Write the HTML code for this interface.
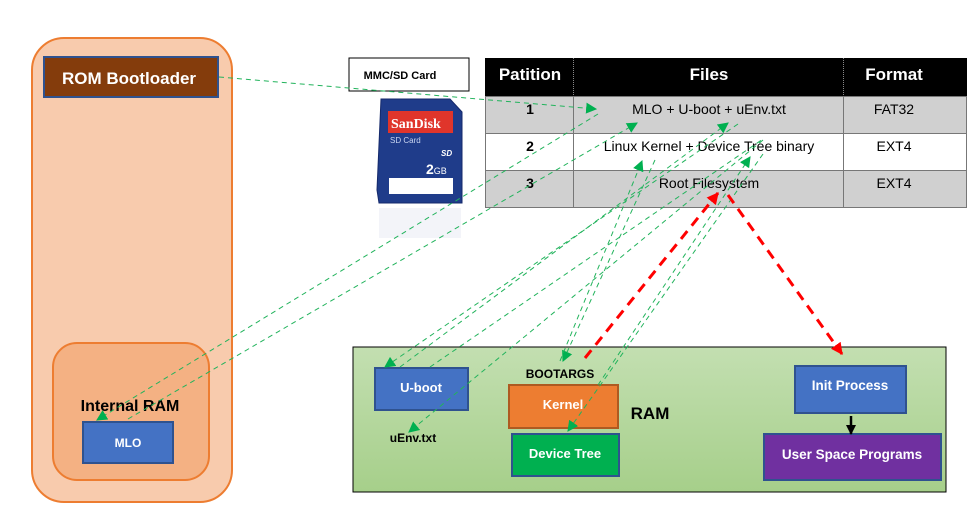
<!DOCTYPE html>
<html><head><meta charset="utf-8"><style>
body{margin:0;background:#fff;}
svg{display:block;font-family:"Liberation Sans",Calibri,sans-serif;}
.b{font-weight:bold;}
</style></head><body>
<svg width="973" height="521" viewBox="0 0 973 521" xmlns="http://www.w3.org/2000/svg">
<defs>
<linearGradient id="g" x1="0" y1="0" x2="0" y2="1"><stop offset="0" stop-color="#c3dfb1"/><stop offset="1" stop-color="#a6cf8a"/></linearGradient>
<marker id="ga" viewBox="0 0 10 10" refX="9" refY="5" markerWidth="11" markerHeight="11" orient="auto-start-reverse" markerUnits="userSpaceOnUse"><path d="M0,0L10,5L0,10z" fill="#00b050"/></marker>
<marker id="ra" viewBox="0 0 10 10" refX="9" refY="5" markerWidth="12" markerHeight="12" orient="auto" markerUnits="userSpaceOnUse"><path d="M0,0L10,5L0,10z" fill="#ff0000"/></marker>
<marker id="ka" viewBox="0 0 10 10" refX="9" refY="5" markerWidth="10" markerHeight="10" orient="auto" markerUnits="userSpaceOnUse"><path d="M0,0L10,5L0,10z" fill="#000"/></marker>
</defs>
<!-- left -->
<rect x="32" y="38" width="200" height="464" rx="32" fill="#f8cbad" stroke="#ed7d31" stroke-width="2"/>
<rect x="44" y="57" width="174" height="40" fill="#843c0c" stroke="#2f528f" stroke-width="2"/>
<text x="129" y="84" font-size="17" fill="#fff" class="b" text-anchor="middle">ROM Bootloader</text>
<rect x="53" y="343" width="156" height="137" rx="24" fill="#f4b183" stroke="#ed7d31" stroke-width="2"/>
<text x="130" y="411" font-size="16" class="b" text-anchor="middle">Internal RAM</text>
<rect x="83" y="422" width="90" height="41" fill="#4472c4" stroke="#2f528f" stroke-width="2"/>
<text x="128" y="447" font-size="12" fill="#fff" class="b" text-anchor="middle">MLO</text>
<!-- SD -->
<rect x="349" y="58" width="120" height="33" fill="#fff" stroke="#000" stroke-width="1"/>
<text x="400" y="79" font-size="11" class="b" text-anchor="middle">MMC/SD Card</text>
<path d="M381,99 L450,99 L462,112 L462,203 L379,203 L377,190 Z" fill="#1f3c8a" stroke="#15296b"/>
<rect x="388" y="111" width="65" height="22" fill="#e0352b"/>
<text x="391" y="128" font-size="14" fill="#fff" font-family="Liberation Serif" class="b">SanDisk</text>
<text x="390" y="143" font-size="8" fill="#c8d4f0">SD Card</text>
<text x="441" y="156" font-size="8" fill="#fff" class="b" font-style="italic">SD</text>
<text x="426" y="174" font-size="14" fill="#fff" class="b">2<tspan font-size="9" font-weight="normal">GB</tspan></text>
<rect x="389" y="178" width="64" height="16" fill="#fff"/>
<rect x="379" y="208" width="82" height="30" fill="#eef0f6" opacity="0.7"/>
<!-- table -->
<rect x="485" y="58" width="482" height="38" fill="#000"/>
<rect x="485" y="96" width="482" height="37" fill="#d0d0d0"/>
<rect x="485" y="133" width="482" height="37" fill="#fff"/>
<rect x="485" y="170" width="482" height="38" fill="#d0d0d0"/>
<g stroke="#777" stroke-width="1" fill="none">
<rect x="485.5" y="96.5" width="481" height="111"/>
<line x1="485" y1="133.5" x2="967" y2="133.5"/><line x1="485" y1="170.5" x2="967" y2="170.5"/>
<line x1="573.5" y1="96" x2="573.5" y2="208"/><line x1="843.5" y1="96" x2="843.5" y2="208"/>
</g>
<line x1="573.5" y1="58" x2="573.5" y2="96" stroke="#888" stroke-dasharray="1,1"/>
<line x1="843.5" y1="58" x2="843.5" y2="96" stroke="#888" stroke-dasharray="1,1"/>
<g font-size="17" fill="#fff" class="b" text-anchor="middle">
<text x="530" y="80">Patition</text><text x="709" y="80">Files</text><text x="894" y="80">Format</text>
</g>
<g font-size="14" text-anchor="middle">
<text x="530" y="114" class="b">1</text><text x="709" y="114">MLO + U-boot + uEnv.txt</text><text x="894" y="114">FAT32</text>
<text x="530" y="151" class="b">2</text><text x="709" y="151">Linux Kernel + Device Tree binary</text><text x="894" y="151">EXT4</text>
<text x="530" y="188" class="b">3</text><text x="709" y="188">Root Filesystem</text><text x="894" y="188">EXT4</text>
</g>
<!-- RAM -->
<rect x="353" y="347" width="593" height="145" fill="url(#g)" stroke="#000" stroke-width="1"/>
<rect x="375" y="368" width="93" height="42" fill="#4472c4" stroke="#2f528f" stroke-width="2"/>
<text x="421" y="392" font-size="13" fill="#fff" class="b" text-anchor="middle">U-boot</text>
<text x="413" y="442" font-size="12" class="b" text-anchor="middle">uEnv.txt</text>
<text x="560" y="378" font-size="12" class="b" text-anchor="middle">BOOTARGS</text>
<rect x="509" y="385" width="109" height="43" fill="#ed7d31" stroke="#ae5a21" stroke-width="2"/>
<text x="563" y="409" font-size="13" fill="#fff" class="b" text-anchor="middle">Kernel</text>
<rect x="512" y="434" width="107" height="42" fill="#00b050" stroke="#2f528f" stroke-width="2"/>
<text x="565" y="458" font-size="13" fill="#fff" class="b" text-anchor="middle">Device Tree</text>
<text x="650" y="419" font-size="17" class="b" text-anchor="middle">RAM</text>
<rect x="795" y="366" width="111" height="47" fill="#4472c4" stroke="#2f528f" stroke-width="2"/>
<text x="850" y="390" font-size="13.5" fill="#fff" class="b" text-anchor="middle">Init Process</text>
<rect x="764" y="434" width="177" height="46" fill="#7030a0" stroke="#2f528f" stroke-width="2"/>
<text x="852" y="459" font-size="13.5" fill="#fff" class="b" text-anchor="middle">User Space Programs</text>
<line x1="851" y1="416" x2="851" y2="434" stroke="#000" stroke-width="2.5" marker-end="url(#ka)"/>
<!-- green dashed -->
<g stroke="#22b35c" stroke-width="1" stroke-dasharray="5,4" fill="none">
<line x1="219" y1="77" x2="596" y2="109" marker-end="url(#ga)"/>
<line x1="598" y1="114" x2="97" y2="420" marker-end="url(#ga)"/>
<line x1="128" y1="419" x2="637" y2="123" marker-end="url(#ga)"/>
<line x1="738" y1="124" x2="385" y2="367" marker-end="url(#ga)"/>
<line x1="400" y1="367" x2="728" y2="123" marker-end="url(#ga)"/>
<line x1="430" y1="367" x2="763" y2="139" />
<line x1="763" y1="140" x2="409" y2="432" marker-end="url(#ga)"/>
<line x1="655" y1="160" x2="563" y2="361" marker-end="url(#ga)"/>
<line x1="560" y1="361" x2="642" y2="161" marker-end="url(#ga)"/>
<line x1="763" y1="154" x2="568" y2="431" marker-end="url(#ga)"/>
<line x1="598" y1="385" x2="750" y2="157" marker-end="url(#ga)"/>
</g>
<!-- red dashed -->
<g stroke="#ff0000" stroke-width="3" stroke-dasharray="10,7" fill="none">
<line x1="585" y1="358" x2="718" y2="193" marker-end="url(#ra)"/>
<line x1="728" y1="195" x2="842" y2="354" marker-end="url(#ra)"/>
</g>
</svg>
</body></html>
